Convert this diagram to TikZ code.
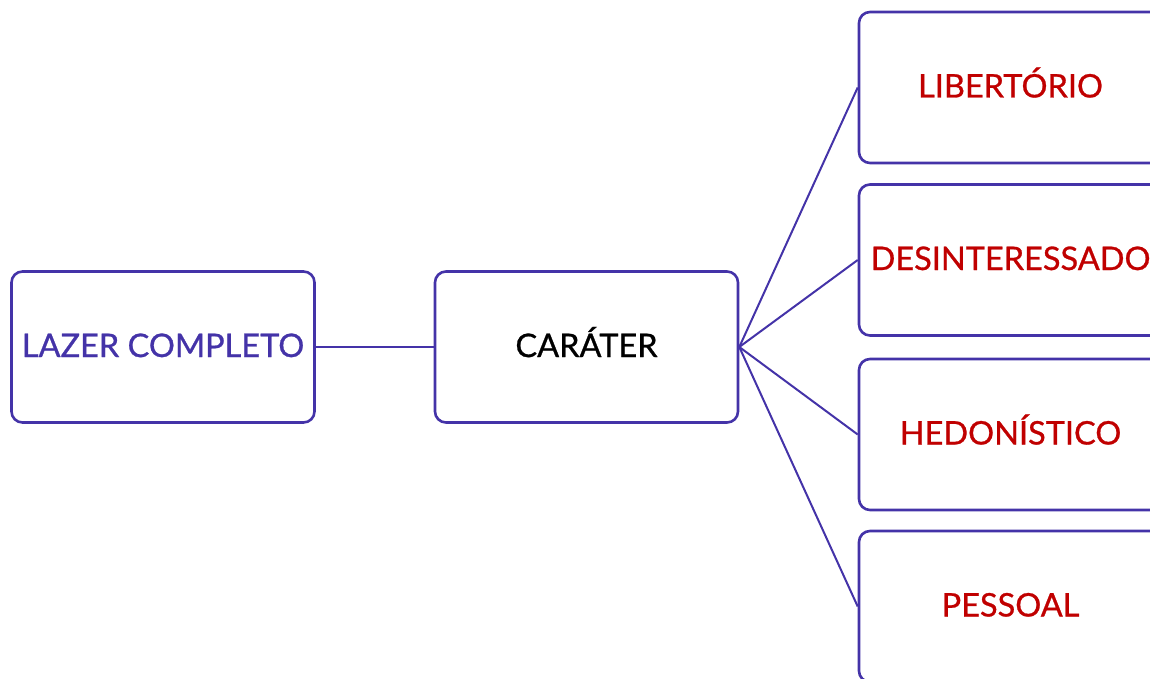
\documentclass[tikz,border=0pt]{standalone}
\usepackage{fontspec}
\setmainfont{Lato}[FakeBold=0.8]
\definecolor{ink}{HTML}{4433A8}
\definecolor{redtxt}{HTML}{C00000}
\begin{document}
\begin{tikzpicture}[x=1pt,y=-1pt,
  box/.style={draw=ink,line width=2.6pt,rounded corners=11pt,minimum width=303pt,minimum height=151pt,inner sep=0pt,text height=20pt,text depth=0pt,font=\fontsize{32.5}{36}\selectfont},
  link/.style={draw=ink,line width=2pt}]
\useasboundingbox (0,0) rectangle (1150,679);
\clip (0,0) rectangle (1150,679);
\node[box,text=ink] (lazer) at (163,347) {LAZER COMPLETO};
\node[box,text=black] (carater) at (586.5,347) {CARÁTER};
\node[box,text=redtxt] (lib) at (1010.5,87.5) {LIBERTÓRIO};
\node[box,text=redtxt] (des) at (1010.5,260) {DESINTERESSADO};
\node[box,text=redtxt] (hed) at (1010.5,434.5) {HEDONÍSTICO};
\node[box,text=redtxt] (pes) at (1010.5,606.5) {PESSOAL};
\draw[link] (lazer.east) -- (carater.west);
\draw[link] (carater.east) -- (lib.west);
\draw[link] (carater.east) -- (des.west);
\draw[link] (carater.east) -- (hed.west);
\draw[link] (carater.east) -- (pes.west);
\end{tikzpicture}
\end{document}
